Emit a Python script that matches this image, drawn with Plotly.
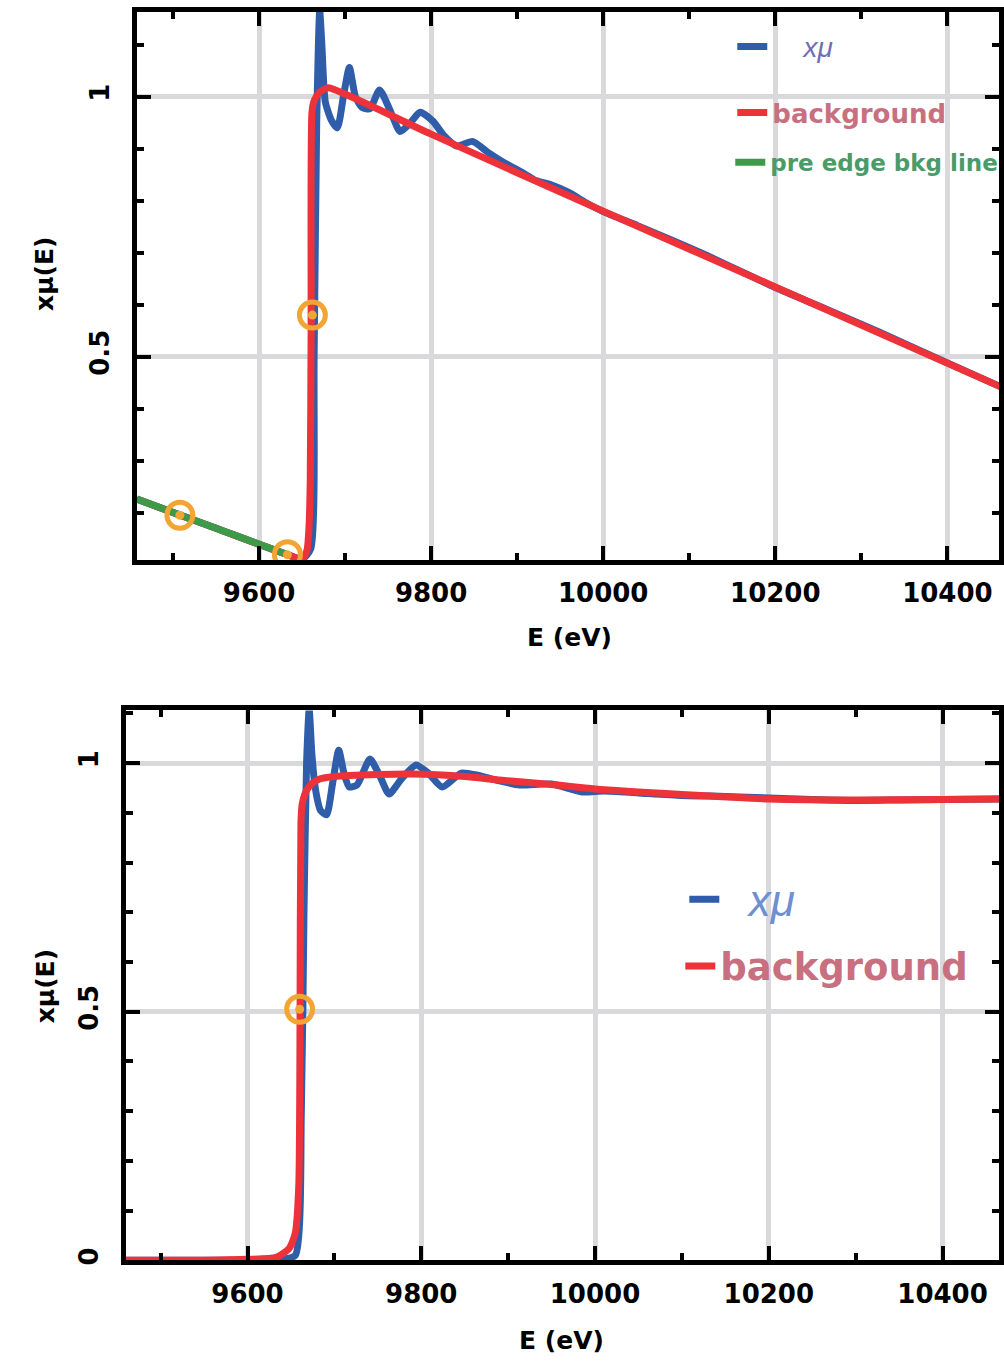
import plotly.graph_objects as go

# ---------------- data ----------------
# top panel: raw mu(E)
top_mu_E = [9458, 9550, 9630, 9650, 9660, 9664, 9667, 9670.5, 9673, 9677, 9684, 9691, 9698, 9705,
            9712, 9720, 9729, 9740, 9752, 9764, 9776, 9787, 9802, 9815, 9830, 9848, 9866, 9884,
            9905, 9920, 9940, 9960, 9980, 10000, 10040, 10080, 10120, 10160, 10200, 10260,
            10320, 10400, 10466]
top_mu_y = [0.226, 0.170, 0.121, 0.111, 0.13, 0.5, 0.95, 1.165, 1.10, 0.99, 0.955, 0.940, 1.0, 1.056,
            1.0, 0.979, 0.977, 1.013, 0.975, 0.933, 0.950, 0.970, 0.953, 0.925, 0.905, 0.914, 0.893, 0.874,
            0.855, 0.840, 0.830, 0.816, 0.796, 0.779, 0.752, 0.724, 0.695, 0.664, 0.633, 0.591,
            0.548, 0.488, 0.439]

top_bkg_E = [9458, 9500, 9550, 9600, 9630, 9645, 9652, 9656, 9658, 9659.5, 9660.5, 9661.5, 9664,
             9670, 9680, 9700, 9800, 10000, 10200, 10466]
top_bkg_y = [0.226, 0.200, 0.170, 0.139, 0.121, 0.112, 0.114, 0.13, 0.17, 0.26, 0.55, 0.97, 0.992,
             1.008, 1.017, 1.005, 0.928, 0.780, 0.634, 0.439]

pre_edge_E = [9458, 9632]
pre_edge_y = [0.226, 0.120]

top_pts_E = [9508, 9633, 9662]
top_pts_y = [0.195, 0.119, 0.58]

# bottom panel: normalized mu(E)
bot_mu_E = [9460, 9600, 9640, 9655, 9662, 9665, 9668, 9671, 9674, 9678, 9684, 9691, 9698, 9705,
            9711, 9717, 9726, 9741, 9752, 9763, 9778, 9794, 9808, 9824, 9846, 9866, 9886, 9913,
            9950, 9985, 10010, 10050, 10100, 10150, 10200, 10250, 10300, 10350, 10400, 10465]
bot_mu_y = [0.0, 0.0, 0.002, 0.01, 0.3, 0.7, 1.0, 1.108, 1.02, 0.95, 0.905, 0.896, 0.96, 1.026,
            0.98, 0.952, 0.956, 1.008, 0.975, 0.938, 0.970, 0.996, 0.980, 0.952, 0.980, 0.975, 0.966, 0.956,
            0.958, 0.942, 0.944, 0.940, 0.935, 0.933, 0.930, 0.927, 0.925, 0.926, 0.927, 0.928]

bot_bkg_E = [9460, 9550, 9600, 9633, 9648, 9655, 9659, 9660.5, 9661.5, 9663, 9668, 9675, 9683,
             9700, 9750, 9790, 9850, 9890, 9950, 10000, 10100, 10200, 10310, 10400, 10465]
bot_bkg_y = [0.0, 0.0, 0.002, 0.006, 0.024, 0.055, 0.15, 0.5, 0.88, 0.918, 0.945, 0.960, 0.968,
             0.973, 0.977, 0.978, 0.973, 0.966, 0.957, 0.948, 0.937, 0.928, 0.926, 0.927, 0.928]

bot_pts_E = [9660]
bot_pts_y = [0.505]

x_ticks = [9600, 9800, 10000, 10200, 10400]
x_tick_text = ["9600", "9800", "10000", "10200", "10400"]

# ---------------- styles ----------------
BLUE = "#2f5daa"
RED = "#ee3239"
GREEN = "#3c9a48"
ORANGE = "#f2a533"
FONT = "DejaVu Sans"
LW = 7

fig = go.Figure()

def line(x, y, color, name, xa, ya, legend, show=True):
    fig.add_trace(go.Scatter(x=x, y=y, mode="lines", name=name,
                             line=dict(color=color, width=LW, shape="spline", smoothing=0.6),
                             xaxis=xa, yaxis=ya, legend=legend, showlegend=show))

def points(x, y, xa, ya):
    fig.add_trace(go.Scatter(x=x, y=y, mode="markers", showlegend=False, hoverinfo="skip",
                             marker=dict(symbol="circle-open", size=26, color=ORANGE,
                                         line=dict(width=5, color=ORANGE)),
                             xaxis=xa, yaxis=ya))
    fig.add_trace(go.Scatter(x=x, y=y, mode="markers", showlegend=False, hoverinfo="skip",
                             marker=dict(symbol="circle", size=9, color=ORANGE),
                             xaxis=xa, yaxis=ya))

# top
line(top_mu_E, top_mu_y, BLUE, "\u00a0\u00a0\u00a0\u00a0xμ", "x", "y", "legend")
line(top_bkg_E, top_bkg_y, RED, "background", "x", "y", "legend2")
fig.add_trace(go.Scatter(x=pre_edge_E, y=pre_edge_y, mode="lines", name="pre edge bkg line",
                         line=dict(color=GREEN, width=LW), xaxis="x", yaxis="y", legend="legend3"))
points(top_pts_E, top_pts_y, "x", "y")

# bottom
line(bot_mu_E, bot_mu_y, BLUE, "\u00a0\u00a0xμ", "x2", "y2", "legend4")
line(bot_bkg_E, bot_bkg_y, RED, "background", "x2", "y2", "legend5")
points(bot_pts_E, bot_pts_y, "x2", "y2")

W, H = 1004, 1364

def xaxis(dom, rng, anchor):
    return dict(domain=dom, range=rng, anchor=anchor, tickvals=x_ticks, ticktext=x_tick_text,
                ticks="inside", ticklen=14, tickwidth=4, tickcolor="black",
                showline=True, linewidth=5, linecolor="black", mirror="ticks",
                showgrid=True, gridcolor="#d9d9db", gridwidth=5, zeroline=False,
                ticklabelstandoff=6,
                tickfont=dict(family=FONT, size=26, color="black", weight="bold"),
                minor=dict(dtick=100, tick0=9500, ticks="inside", ticklen=7, tickwidth=4,
                           tickcolor="black", showgrid=False))

def yaxis(dom, rng, anchor, vals, texts):
    return dict(domain=dom, range=rng, anchor=anchor, tickvals=vals, ticktext=texts,
                tickangle=-90,
                ticks="inside", ticklen=14, tickwidth=4, tickcolor="black",
                showline=True, linewidth=5, linecolor="black", mirror="ticks",
                showgrid=True, gridcolor="#d9d9db", gridwidth=5, zeroline=False,
                ticklabelstandoff=12,
                tickfont=dict(family=FONT, size=26, color="black", weight="bold"),
                minor=dict(dtick=0.1, tick0=0, ticks="inside", ticklen=7, tickwidth=4,
                           tickcolor="black", showgrid=False))

def legend_at(xpx, ypx, size, color, style="normal", weight="bold", family=FONT):
    return dict(x=xpx / W, y=1 - ypx / H, xanchor="left", yanchor="middle",
                bgcolor="rgba(0,0,0,0)", borderwidth=0,
                font=dict(family=family, size=size, color=color, style=style, weight=weight))

fig.update_layout(
    width=W, height=H, autosize=False,
    margin=dict(l=0, r=0, t=0, b=0),
    paper_bgcolor="white", plot_bgcolor="white",
    xaxis=xaxis([137 / W, 1000 / W], [9458, 10460], "y"),
    yaxis=yaxis([1 - 562 / H, 1 - 12 / H], [0.109, 1.163], "x", [0.5, 1], ["0.5", "1"]),
    xaxis2=xaxis([126 / W, 1000 / W], [9460, 10465], "y2"),
    yaxis2=yaxis([1 - 1265 / H, 1 - 713 / H], [0, 1.106], "x2", [0, 0.5, 1], ["0", "0.5", "1"]),
    legend=legend_at(733, 47, 28, "#6f6db5", style="italic", weight="normal", family="Liberation Sans"),
    legend2=legend_at(733, 113, 26, "#c8707f"),
    legend3=legend_at(731, 163, 23, "#4a9a6a"),
    legend4=legend_at(685, 903, 44, "#6e8fd0", style="italic", weight="normal", family="Liberation Sans"),
    legend5=legend_at(681, 970, 37, "#c8707f"),
    showlegend=True,
)

ann_font = dict(family=FONT, size=25, color="black", weight="bold")
for (px, py, txt, ang) in [(45, 275, "xμ(E)", -90), (45, 990, "xμ(E)", -90),
                           (570, 640, "E (eV)", 0), (562, 1345, "E (eV)", 0)]:
    fig.add_annotation(x=px / W, y=1 - py / H, xref="paper", yref="paper", text=txt,
                       xanchor="center", yanchor="middle",
                       textangle=ang, showarrow=False, font=ann_font)

fig.write_html("out.html")
